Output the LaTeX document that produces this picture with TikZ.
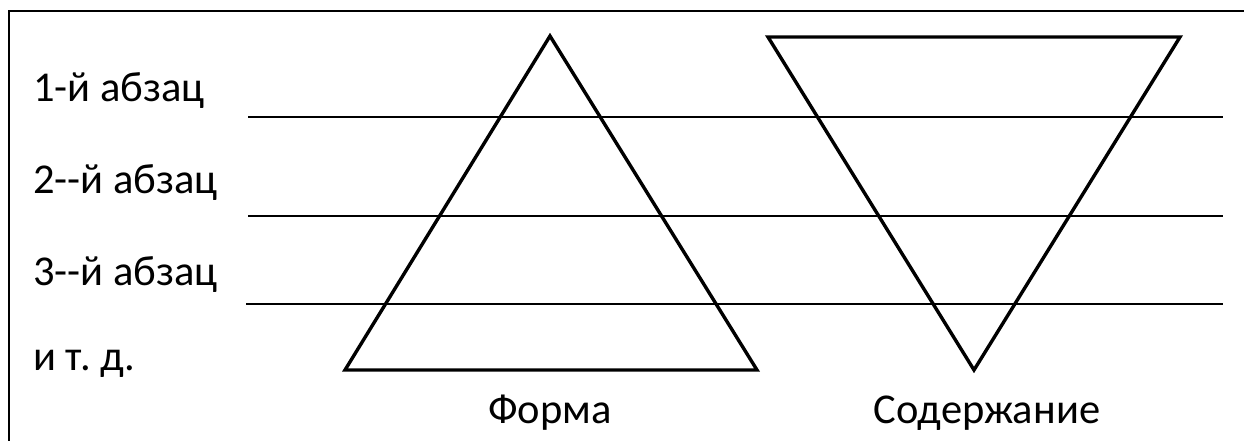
\documentclass[tikz,border=0pt]{standalone}
\usepackage{fontspec}
\setmainfont{Carlito}
\usetikzlibrary{positioning}

\begin{document}
\begin{tikzpicture}[x=1pt, y=-1pt,
    rowlabel/.style={anchor=base west, inner sep=0pt, font=\fontsize{42.5}{50}\selectfont},
    caption/.style={anchor=base, inner sep=0pt, font=\fontsize{42.5}{50}\selectfont},
    rule/.style={line width=1.6pt},
    tri/.style={line width=3.4pt, line join=miter}
]
    \useasboundingbox (0,0) rectangle (1244,440);
    \clip (0,0) rectangle (1244,440);
    % frame, cut off on the right and at the bottom
    \draw[line width=2pt] (9,11) rectangle (1270,470);

    % paragraph rows
    \node [rowlabel] (row1) at (33,101) {1-й абзац};
    \node [rowlabel] (row2) at (33,193) {2-{}-й абзац};
    \node [rowlabel] (row3) at (33,285) {3-{}-й абзац};
    \node [rowlabel] (row4) at (33,370) {и т.\ д.};

    \coordinate (r1w) at (248,117); \coordinate (r1e) at (1223,117);
    \coordinate (r2w) at (248,216); \coordinate (r2e) at (1223,216);
    \coordinate (r3w) at (246,304); \coordinate (r3e) at (1223,304);
    \foreach \r in {1,2,3}
        \draw [rule] (r\r w) -- (r\r e);

    % form: pyramid
    \coordinate (formtop)   at (550,36);
    \coordinate (formleft)  at (345,370);
    \coordinate (formright) at (757,370);
    \draw [tri] (formtop) -- (formright) -- (formleft) -- cycle;
    \node [caption] (form) at (550,423) {Форма};

    % content: inverted pyramid
    \coordinate (contleft)   at (768,37);
    \coordinate (contright)  at (1180,37);
    \coordinate (contbottom) at (974,370);
    \draw [tri] (contleft) -- (contright) -- (contbottom) -- cycle;
    \node [caption] (content) at (987,423) {Содержание};
\end{tikzpicture}
\end{document}
